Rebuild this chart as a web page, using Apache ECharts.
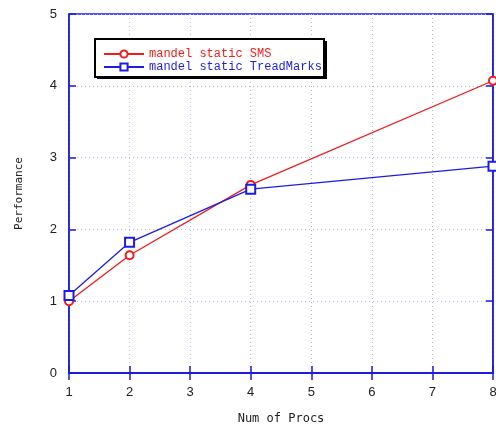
<!DOCTYPE html>
<html><head><meta charset="utf-8">
<script src="https://cdn.jsdelivr.net/npm/echarts@6/dist/echarts.min.js"></script>
<style>html,body{margin:0;padding:0;background:#fff}#c{width:496px;height:428px}</style>
</head><body><div id="c"></div>
<script>
var procs = [1, 2, 4, 8];
var smsValues = [1.0, 1.64, 2.62, 4.07];
var tmValues = [1.08, 1.82, 2.56, 2.88];
var xTicks = [1, 2, 3, 4, 5, 6, 7, 8];
var yTicks = [0, 1, 2, 3, 4, 5];
var seriesNames = ['mandel static SMS', 'mandel static TreadMarks'];

var RED = '#ee1c1c', BLUE = '#1c1ce6', AXIS = '#1a1ae0';
function pairs(xs, ys) { return xs.map(function (x, i) { return [x, ys[i]]; }); }

var chart = echarts.init(document.getElementById('c'));
var tickStyle = { show: true, inside: true, length: 7, lineStyle: { color: AXIS, width: 1.5 } };
var split = { show: true, lineStyle: { color: '#b4b4ee', type: [1, 3], width: 1 } };
chart.setOption({
  animation: false,
  backgroundColor: '#fff',
  grid: { left: 69, right: 3, top: 14, bottom: 55, show: true, borderColor: AXIS, borderWidth: 1.5,
          outerBoundsMode: 'none', containLabel: false },
  xAxis: [{
    type: 'value', min: xTicks[0], max: xTicks[xTicks.length - 1], interval: 1,
    name: 'Num of Procs', nameLocation: 'middle', nameGap: 40,
    nameTextStyle: { fontFamily: 'DejaVu Sans Mono', fontSize: 12, color: '#222' },
    axisLine: { show: true, lineStyle: { color: AXIS, width: 1.5 } },
    axisTick: tickStyle, splitLine: split,
    axisLabel: { margin: 13, fontFamily: 'Liberation Sans', fontSize: 13, color: '#222' }
  }, {
    type: 'value', position: 'top', min: xTicks[0], max: xTicks[xTicks.length - 1], interval: 1,
    axisLine: { show: true, lineStyle: { color: AXIS, width: 1.5 } },
    axisTick: tickStyle, splitLine: { show: false }, axisLabel: { show: false }
  }],
  yAxis: [{
    type: 'value', min: yTicks[0], max: yTicks[yTicks.length - 1], interval: 1,
    name: 'Performance', nameLocation: 'middle', nameGap: 44, nameRotate: 90,
    nameTextStyle: { fontFamily: 'DejaVu Sans Mono', fontSize: 11, color: '#222' },
    axisLine: { show: true, lineStyle: { color: AXIS, width: 1.5 } },
    axisTick: tickStyle, splitLine: split,
    axisLabel: { margin: 12, fontFamily: 'Liberation Sans', fontSize: 13, color: '#222' }
  }, {
    type: 'value', position: 'right', min: yTicks[0], max: yTicks[yTicks.length - 1], interval: 1,
    axisLine: { show: true, lineStyle: { color: AXIS, width: 1.5 } },
    axisTick: tickStyle, splitLine: { show: false }, axisLabel: { show: false }
  }],
  graphic: [
    { type: 'rect', left: 97, top: 41, shape: { width: 230, height: 38 }, style: { fill: '#000' }, z: 10 },
    { type: 'rect', left: 94, top: 38, shape: { width: 229, height: 38 }, style: { fill: '#fff', stroke: '#000', lineWidth: 2 }, z: 11 }
  ],
  legend: {
    left: 103, top: 48, orient: 'vertical', itemWidth: 40, itemHeight: 9, itemGap: 1, padding: 0, z: 20,
    textStyle: { fontFamily: 'Liberation Mono', fontSize: 12, lineHeight: 11 },
    data: [
      { name: seriesNames[0], textStyle: { color: RED } },
      { name: seriesNames[1], textStyle: { color: BLUE } }
    ]
  },
  series: [{
    name: seriesNames[0], type: 'line', data: pairs(procs, smsValues),
    symbol: 'emptyCircle', symbolSize: 8, z: 5,
    lineStyle: { color: RED, width: 1.3 }, itemStyle: { color: RED, borderWidth: 1.1 }
  }, {
    name: seriesNames[1], type: 'line', data: pairs(procs, tmValues),
    symbol: 'emptyRect', symbolSize: 9, z: 5,
    lineStyle: { color: BLUE, width: 1.3 }, itemStyle: { color: BLUE, borderWidth: 1.1 }
  }]
});
</script></body></html>
